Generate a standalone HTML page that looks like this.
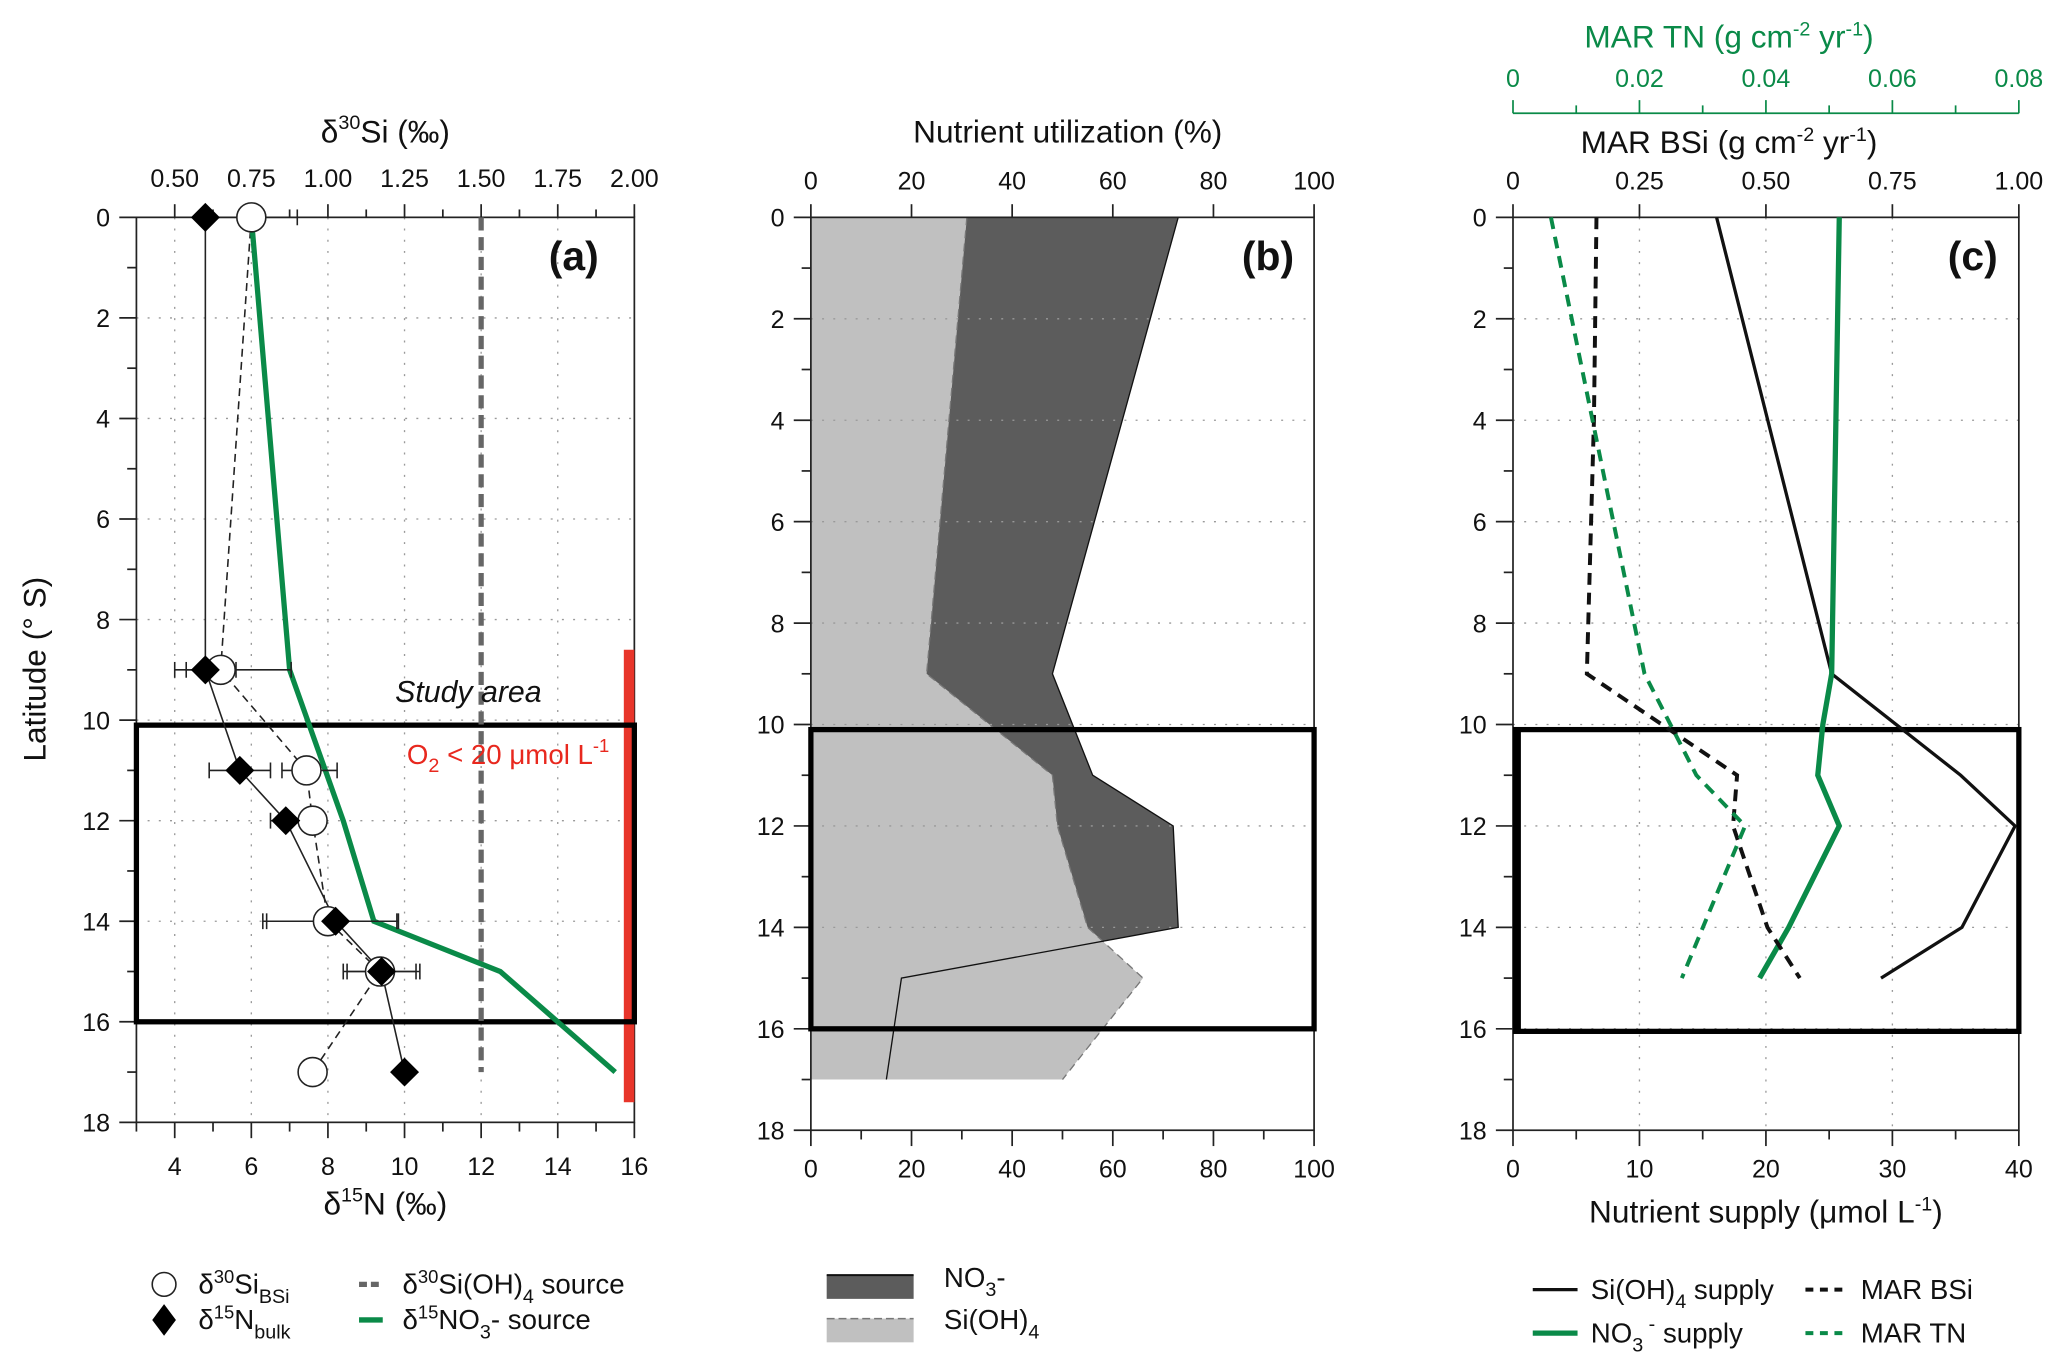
<!DOCTYPE html>
<html><head><meta charset="utf-8"><style>
html,body{margin:0;padding:0;background:#fff}
svg{display:block}
text{font-family:"Liberation Sans",Helvetica,Arial,sans-serif;fill:#111}
</style></head><body>
<svg id="fig" xmlns="http://www.w3.org/2000/svg" width="2067" height="1370" viewBox="0 0 1568 1040"></svg>
<script>
// ---------- DATA ----------
// Panel a
const latsA = [0, 9, 11, 12, 14, 15, 17];
const d15Nbulk = [4.8, 4.8, 5.7, 6.9, 8.2, 9.4, 10.0];
const d15NErrLo = [4.8, 4.3, 4.9, 6.5, 6.3, 8.5, 10.0];
const d15NErrHi = [4.8, 5.6, 6.5, 7.3, 9.8, 10.3, 10.0];
const d30SiBSi = [0.75, 0.65, 0.93, 0.95, 1.0, 1.17, 0.95];
const d30SiErrLo = [0.60, 0.50, 0.85, 0.95, 0.80, 1.05, 0.95];
const d30SiErrHi = [0.90, 0.88, 1.03, 0.95, 1.23, 1.30, 0.95];
const latsNO3src = [0, 9, 12, 14, 15, 17];
const d15NO3src = [6.0, 7.0, 8.4, 9.2, 12.5, 15.5];
const d30SiSource = 1.5;
const oxyLat = [8.6, 17.6];
const studyLat = [10.1, 16.0];
// Panel b
const latsB = [0, 9, 11, 12, 14, 15, 17];
const utilNO3 = [73, 48, 56, 72, 73, 18, 15];
const latsBSi = [0, 9, 11, 12, 14, 15, 17];
const utilSi = [31, 23, 48, 49, 55, 66, 50];
// Panel c
const latsC = [0, 9, 11, 12, 14, 15];
const siSupply = [16.1, 25.2, 35.4, 39.7, 35.5, 29.1];
const latsCN = [0, 9, 10, 11, 12, 14, 15];
const no3Supply = [25.8, 25.2, 24.5, 24.1, 25.8, 21.8, 19.5];
const latsMBSi = [0, 4, 9, 11, 12, 14, 15];
const marBSi = [0.165, 0.16, 0.146, 0.443, 0.435, 0.503, 0.567];
const latsMTN = [0, 9, 11, 12, 15];
const marTN = [0.006, 0.0208, 0.029, 0.0367, 0.0267];
// ticks
const latTicks = [0,2,4,6,8,10,12,14,16,18];
const nTicks = [4,6,8,10,12,14,16];
const siTicks = ["0.50","0.75","1.00","1.25","1.50","1.75","2.00"];
const pctTicks = [0,20,40,60,80,100];
const supTicks = [0,10,20,30,40];
const bsiTicks = ["0","0.25","0.50","0.75","1.00"];
const tnTicks = ["0","0.02","0.04","0.06","0.08"];

// ---------- HELPERS ----------
const NS = "http://www.w3.org/2000/svg";
const svg = document.getElementById('fig');
function el(tag, attrs, parent){const e=document.createElementNS(NS,tag);for(const k in attrs)e.setAttribute(k,attrs[k]);(parent||svg).appendChild(e);return e;}
function txt(x,y,s,attrs,parent){const t=el('text',Object.assign({x:x,y:y},attrs||{}),parent);t.innerHTML=s;return t;}

const A={x0:103,x1:481,y0:165,y1:852};
const B={x0:615,x1:997,y0:165,y1:858};
const C={x0:1148,x1:1532,y0:165,y1:858};
const yA=l=>A.y0+l*(A.y1-A.y0)/18;
const yB=l=>B.y0+l*(B.y1-B.y0)/18;
const yC=l=>C.y0+l*(C.y1-C.y0)/18;
const xN=v=>A.x0+(v-3)*(A.x1-A.x0)/13;
const xSi=v=>xN(4+(v-0.5)*8);
const xP=v=>B.x0+v*(B.x1-B.x0)/100;
const xS=v=>C.x0+v*(C.x1-C.x0)/40;
const xBSi=v=>C.x0+v*(C.x1-C.x0);
const xTN=v=>C.x0+v/0.08*(C.x1-C.x0);

function frame(P,yf,name){
  const g=el('g',{});
  
  
  for(const l of latTicks){ if(l>0&&l<18) el('line',{x1:P.x0,x2:P.x1,y1:yf(l),y2:yf(l),stroke:'#999','stroke-width':1,'stroke-dasharray':'1.5 7'},g);}
  el('rect',{x:P.x0,y:P.y0,width:P.x1-P.x0,height:P.y1-P.y0,fill:'none',stroke:'#222','stroke-width':1.3},g);
  for(let l=0;l<=18;l++){ const len=l%2?7:13; el('line',{x1:P.x0-len,x2:P.x0,y1:yf(l),y2:yf(l),stroke:'#222','stroke-width':1.3},g);}
  for(const l of latTicks){ txt(P.x0-20,yf(l)+7,String(l),{'text-anchor':'end','font-size':19},g);}
  return g;
}
function vgrid(P,xs){for(const x of xs) el('line',{x1:x,x2:x,y1:P.y0,y2:P.y1,stroke:'#999','stroke-width':1,'stroke-dasharray':'1.5 7'});}
function poly(xs,ys,attrs,name){const pts=xs.map((x,i)=>x+','+ys[i]).join(' ');const p=el('polyline',Object.assign({points:pts,fill:'none'},attrs));return p;}

// ---------- PANEL A ----------
vgrid(A,nTicks.map(xN));
frame(A,yA,'panel-a');
for(let v=3;v<=16;v++){const x=xN(v);el('line',{x1:x,x2:x,y1:A.y1,y2:A.y1+(v%2?7:12),stroke:'#222','stroke-width':1.3});}
nTicks.forEach(v=>txt(xN(v),A.y1+40,String(v),{'text-anchor':'middle','font-size':19}));
siTicks.forEach(s=>{const x=xSi(+s);el('line',{x1:x,x2:x,y1:A.y0-10,y2:A.y0,stroke:'#222','stroke-width':1.3});txt(x,A.y0-23,s,{'text-anchor':'middle','font-size':19});});
for(let k=0;k<6;k++){const x=xSi(0.625+k*0.25);el('line',{x1:x,x2:x,y1:A.y0-6,y2:A.y0,stroke:'#222','stroke-width':1.3});}
txt(292,108,'δ<tspan dy="-10" font-size="15">30</tspan><tspan dy="10">Si (‰)</tspan>',{'text-anchor':'middle','font-size':24});
txt(292,922,'δ<tspan dy="-10" font-size="15">15</tspan><tspan dy="10">N  (‰)</tspan>',{'text-anchor':'middle','font-size':24});
const yl=txt(0,0,'Latitude (° S)',{'font-size':24,'text-anchor':'middle',transform:'translate(34,508) rotate(-90)'});

const rb=el('rect',{x:473,y:yA(oxyLat[0]),width:8,height:yA(oxyLat[1])-yA(oxyLat[0]),fill:'#e8352a'});

const sa=el('rect',{x:A.x0,y:yA(studyLat[0]),width:A.x1-A.x0,height:yA(studyLat[1])-yA(studyLat[0]),fill:'none',stroke:'#000','stroke-width':4});

const sl=el('line',{x1:xSi(d30SiSource),x2:xSi(d30SiSource),y1:yA(0),y2:yA(17),stroke:'#666','stroke-width':4,'stroke-dasharray':'10 5'});

txt(355,533,'Study area',{'font-size':23,'font-style':'italic','text-anchor':'middle'});
txt(462,580,'O<tspan dy="6" font-size="15">2</tspan><tspan dy="-6"> &lt; 20 μmol L</tspan><tspan dy="-9" font-size="14">-1</tspan>',{'font-size':21,'text-anchor':'end',style:'fill:#e8281e'});
txt(435,205,'(a)',{'font-size':31,'font-weight':'bold','text-anchor':'middle'});
poly(d30SiBSi.map(xSi),latsA.map(yA),{stroke:'#222','stroke-width':1.2,'stroke-dasharray':'6 4'},'d30si-bsi-line');
poly(d15Nbulk.map(xN),latsA.map(yA),{stroke:'#222','stroke-width':1.2},'d15n-bulk-line');
poly(d15NO3src.map(xN),latsNO3src.map(yA),{stroke:'#0a8a48','stroke-width':4},'d15no3-source-line');
function ebar(x1,x2,y){if(x2-x1<2)return;el('line',{x1:x1,x2:x2,y1:y,y2:y,stroke:'#222','stroke-width':1.2});el('line',{x1:x1,x2:x1,y1:y-6,y2:y+6,stroke:'#222','stroke-width':1.2});el('line',{x1:x2,x2:x2,y1:y-6,y2:y+6,stroke:'#222','stroke-width':1.2});}
latsA.forEach((l,i)=>{ebar(xSi(d30SiErrLo[i]),xSi(d30SiErrHi[i]),yA(l));ebar(xN(d15NErrLo[i]),xN(d15NErrHi[i]),yA(l));});
latsA.forEach((l,i)=>{const c=el('circle',{cx:xSi(d30SiBSi[i]),cy:yA(l),r:11,fill:'#fff',stroke:'#222','stroke-width':1.2});
});
latsA.forEach((l,i)=>{const x=xN(d15Nbulk[i]),y=yA(l);const d=el('polygon',{points:`${x-11},${y} ${x},${y-11} ${x+11},${y} ${x},${y+11}`,fill:'#000'});
});

// ---------- PANEL B ----------
function area(vals,lats,yf,fill,name){const pts=[[xP(0),yf(lats[0])]];vals.forEach((v,i)=>pts.push([xP(v),yf(lats[i])]));pts.push([xP(0),yf(lats[lats.length-1])]);
const p=el('polygon',{points:pts.map(p=>p.join(',')).join(' '),fill:fill});}
area(utilNO3,latsB,yB,'#5c5c5c','no3-utilization-area');
area(utilSi,latsBSi,yB,'#c0c0c0','sioh4-utilization-area');
poly(utilSi.map(xP),latsBSi.map(yB),{stroke:'#777','stroke-width':1,'stroke-dasharray':'6 4'},'sioh4-utilization-line');
poly(utilNO3.map(xP),latsB.map(yB),{stroke:'#111','stroke-width':1},'no3-utilization-line');
frame(B,yB,'panel-b');
pctTicks.forEach(v=>{const x=xP(v);el('line',{x1:x,x2:x,y1:B.y1,y2:B.y1+12,stroke:'#222','stroke-width':1.3});el('line',{x1:x,x2:x,y1:B.y0-10,y2:B.y0,stroke:'#222','stroke-width':1.3});
txt(x,B.y1+36,String(v),{'text-anchor':'middle','font-size':19});txt(x,B.y0-21,String(v),{'text-anchor':'middle','font-size':19});});
for(let v=10;v<100;v+=20){const x=xP(v);el('line',{x1:x,x2:x,y1:B.y1,y2:B.y1+7,stroke:'#222','stroke-width':1.3});}
const sb=el('rect',{x:B.x0,y:yB(studyLat[0]),width:B.x1-B.x0,height:yB(studyLat[1])-yB(studyLat[0]),fill:'none',stroke:'#000','stroke-width':4});

txt(810,108,'Nutrient utilization  (%)',{'text-anchor':'middle','font-size':24});
txt(962,205,'(b)',{'font-size':31,'font-weight':'bold','text-anchor':'middle'});

// ---------- PANEL C ----------
vgrid(C,[0.25,0.5,0.75].map(xBSi));
frame(C,yC,'panel-c');
supTicks.forEach(v=>{const x=xS(v);el('line',{x1:x,x2:x,y1:C.y1,y2:C.y1+12,stroke:'#222','stroke-width':1.3});txt(x,C.y1+36,String(v),{'text-anchor':'middle','font-size':19});});
for(let v=5;v<40;v+=10){const x=xS(v);el('line',{x1:x,x2:x,y1:C.y1,y2:C.y1+7,stroke:'#222','stroke-width':1.3});}
bsiTicks.forEach(s=>{const x=xBSi(+s);el('line',{x1:x,x2:x,y1:C.y0-10,y2:C.y0,stroke:'#222','stroke-width':1.3});txt(x,C.y0-21,s,{'text-anchor':'middle','font-size':19});});
el('line',{x1:C.x0,x2:C.x1,y1:86,y2:86,stroke:'#0a8a48','stroke-width':1.3});
tnTicks.forEach(s=>{const x=xTN(+s);el('line',{x1:x,x2:x,y1:76,y2:86,stroke:'#0a8a48','stroke-width':1.3});txt(x,66,s,{'text-anchor':'middle','font-size':19,style:'fill:#0a8a48'});});
for(let k=0;k<4;k++){const x=xTN(0.01+k*0.02);el('line',{x1:x,x2:x,y1:80,y2:86,stroke:'#0a8a48','stroke-width':1.3});}
txt(1312,36,'MAR TN (g cm<tspan dy="-9" font-size="15">-2</tspan><tspan dy="9"> yr</tspan><tspan dy="-9" font-size="15">-1</tspan><tspan dy="9">)</tspan>',{'text-anchor':'middle','font-size':24,style:'fill:#0a8a48'});
txt(1312,116,'MAR BSi (g cm<tspan dy="-9" font-size="15">-2</tspan><tspan dy="9"> yr</tspan><tspan dy="-9" font-size="15">-1</tspan><tspan dy="9">)</tspan>',{'text-anchor':'middle','font-size':24});
txt(1340,928,'Nutrient supply (μmol L<tspan dy="-9" font-size="15">-1</tspan><tspan dy="9">)</tspan>',{'text-anchor':'middle','font-size':24});
const sc=el('rect',{x:C.x0+2,y:yC(studyLat[0]),width:C.x1-C.x0-2,height:yC(16.05)-yC(studyLat[0]),fill:'none',stroke:'#000','stroke-width':4});

el('line',{x1:C.x0+3,x2:C.x0+3,y1:yC(10.1),y2:yC(16.05),stroke:'#000','stroke-width':6});
poly(siSupply.map(xS),latsC.map(yC),{stroke:'#111','stroke-width':2.5},'sioh4-supply-line');
poly(no3Supply.map(xS),latsCN.map(yC),{stroke:'#0a8a48','stroke-width':4},'no3-supply-line');
poly(marBSi.map(xBSi),latsMBSi.map(yC),{stroke:'#111','stroke-width':3,'stroke-dasharray':'9 6'},'mar-bsi-line');
poly(marTN.map(xTN),latsMTN.map(yC),{stroke:'#0a8a48','stroke-width':3,'stroke-dasharray':'9 6'},'mar-tn-line');
txt(1497,205,'(c)',{'font-size':31,'font-weight':'bold','text-anchor':'middle'});

// ---------- LEGENDS ----------
const lg=el('g',{});
el('circle',{cx:124,cy:975,r:9,fill:'#fff',stroke:'#222','stroke-width':1.2},lg);
txt(150,982,'δ<tspan dy="-8" font-size="14">30</tspan><tspan dy="8">Si</tspan><tspan dy="7" font-size="15">BSi</tspan>',{'font-size':21},lg);
el('polygon',{points:'115,1002 124,990 133,1002 124,1014',fill:'#000'},lg);
txt(150,1009,'δ<tspan dy="-8" font-size="14">15</tspan><tspan dy="8">N</tspan><tspan dy="7" font-size="15">bulk</tspan>',{'font-size':21},lg);
el('line',{x1:272,x2:290,y1:975,y2:975,stroke:'#666','stroke-width':4,'stroke-dasharray':'6 3'},lg);
txt(305,982,'δ<tspan dy="-8" font-size="14">30</tspan><tspan dy="8">Si(OH)</tspan><tspan dy="7" font-size="15">4</tspan><tspan dy="-7"> source</tspan>',{'font-size':21},lg);
el('line',{x1:272,x2:290,y1:1002,y2:1002,stroke:'#0a8a48','stroke-width':4},lg);
txt(305,1009,'δ<tspan dy="-8" font-size="14">15</tspan><tspan dy="8">NO</tspan><tspan dy="7" font-size="15">3</tspan><tspan dy="-7">- source</tspan>',{'font-size':21},lg);
el('rect',{x:627,y:968,width:66,height:18,fill:'#5c5c5c'},lg);
el('line',{x1:627,x2:693,y1:968,y2:968,stroke:'#111','stroke-width':1.5},lg);
txt(716,977,'NO<tspan dy="7" font-size="15">3</tspan><tspan dy="-7">-</tspan>',{'font-size':21},lg);
el('rect',{x:627,y:1001,width:66,height:18,fill:'#c0c0c0'},lg);
el('line',{x1:627,x2:693,y1:1001,y2:1001,stroke:'#777','stroke-width':1.2,'stroke-dasharray':'6 3'},lg);
txt(716,1009,'Si(OH)<tspan dy="7" font-size="15">4</tspan>',{'font-size':21},lg);
el('line',{x1:1163,x2:1197,y1:979,y2:979,stroke:'#111','stroke-width':2.5},lg);
txt(1207,986,'Si(OH)<tspan dy="7" font-size="15">4</tspan><tspan dy="-7"> supply</tspan>',{'font-size':21},lg);
el('line',{x1:1163,x2:1197,y1:1012,y2:1012,stroke:'#0a8a48','stroke-width':4},lg);
txt(1207,1019,'NO<tspan dy="7" font-size="15">3</tspan><tspan dy="-16" font-size="15"> -</tspan><tspan dy="9"> supply</tspan>',{'font-size':21},lg);
el('line',{x1:1370,x2:1402,y1:979,y2:979,stroke:'#111','stroke-width':3,'stroke-dasharray':'6 5'},lg);
txt(1412,986,'MAR BSi',{'font-size':21},lg);
el('line',{x1:1370,x2:1402,y1:1012,y2:1012,stroke:'#0a8a48','stroke-width':3,'stroke-dasharray':'6 5'},lg);
txt(1412,1019,'MAR TN',{'font-size':21},lg);
</script>
</body></html>
